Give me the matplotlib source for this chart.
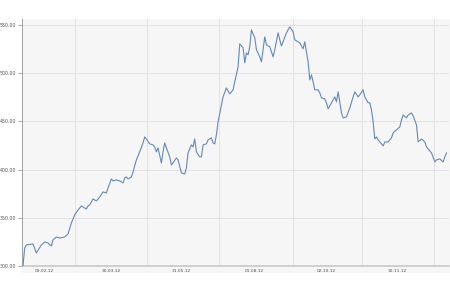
import matplotlib.pyplot as plt
from matplotlib.patches import Rectangle

# Share price (x = trading day index)
days = [0, 1, 2, 6, 8, 11, 13, 15, 17, 18, 20, 22, 25, 27, 29, 31, 33, 35, 36, 38,
        39, 40, 42, 44, 46, 48, 50, 51, 53, 54, 56, 58, 60, 61, 62, 63, 65, 66, 68, 70,
        72, 73, 74, 76, 78, 79, 80, 81, 83, 84, 85, 86, 88, 89, 90, 92, 93, 95, 97, 98,
        99, 101, 102, 103, 104, 106, 107, 108, 110, 111, 113, 114, 115, 116, 117, 119, 120, 122, 124, 126,
        127, 129, 130, 132, 133, 134, 135, 136, 137, 139, 140, 142, 143, 145, 146, 148, 150, 151, 153, 154,
        155, 156, 158, 160, 162, 163, 166, 168, 169, 171, 172, 173, 174, 175, 177, 178, 179, 181, 182, 183,
        185, 187, 188, 189, 190, 191, 192, 194, 196, 198, 199, 201, 202, 204, 205, 207, 208, 209, 210, 211,
        212, 213, 214, 216, 217, 219, 221, 222, 224, 226, 227, 228, 230, 231, 233, 234, 236, 237, 239, 241,
        242, 245, 247, 248, 250, 252, 253, 254]
prices = [300.0, 318.7, 321.8, 322.8, 313.5, 321.8, 324.9, 323.9, 320.7, 327.0,
          330.1, 329.0, 330.1, 333.2, 344.6, 352.9, 358.1, 362.2, 361.2, 359.1,
          362.2, 363.3, 369.5, 367.4, 371.6, 376.8, 375.7, 380.9, 390.2, 388.2,
          389.2, 388.2, 386.1, 391.3, 392.3, 390.2, 392.3, 397.5, 410.0, 418.3,
          427.6, 433.8, 431.7, 426.6, 425.5, 423.4, 418.3, 422.4, 406.8, 418.3,
          427.6, 422.4, 413.1, 404.8, 406.8, 412.0, 410.0, 396.5, 395.4, 401.7,
          417.2, 425.5, 423.4, 431.7, 418.3, 413.1, 413.1, 425.5, 426.6, 430.7,
          432.8, 427.6, 426.6, 435.9, 449.4, 467.0, 475.3, 484.6, 478.4, 482.6,
          490.9, 506.4, 530.3, 526.1, 510.6, 520.9, 518.9, 527.2, 544.8, 536.5,
          524.1, 516.8, 511.6, 537.5, 529.2, 527.2, 516.8, 524.1, 541.7, 534.4,
          528.2, 532.4, 541.7, 547.9, 542.7, 534.4, 531.3, 525.1, 532.4, 511.6,
          492.9, 498.1, 490.9, 482.6, 482.6, 479.5, 474.3, 473.2, 469.1, 462.9,
          469.1, 475.3, 470.1, 480.5, 470.1, 458.7, 453.5, 454.6, 463.9, 475.3,
          480.5, 475.3, 477.4, 482.6, 475.3, 469.1, 469.1, 461.8, 449.4, 431.7,
          433.8, 430.7, 428.6, 424.5, 428.6, 428.6, 432.8, 438.0, 441.1, 444.2,
          451.4, 456.6, 453.5, 456.6, 458.7, 455.6, 446.3, 428.6, 431.7, 428.6,
          423.4, 417.2, 407.9, 410.0, 411.0, 407.9, 413.1, 417.2]

date_labels = ['09.02.12', '30.03.12', '31.05.12', '01.08.12', '02.10.12', '30.11.12']
label_days = [12.6, 52.7, 95.2, 138.9, 182.0, 224.6]
grid_days = [31.1, 74.3, 117.4, 161.7, 203.6, 246.7]
y_ticks = [300, 350, 400, 450, 500, 550]

fig = plt.figure(figsize=(4.5, 3), dpi=100)
bg = Rectangle((22 / 450, 27 / 300), 428 / 450, 254 / 300,
               transform=fig.transFigure, facecolor='#f6f6f6',
               edgecolor='none', zorder=-10)
fig.patches.append(bg)
ax = fig.add_axes([22 / 450, 34 / 300, 427 / 450, 247 / 300])
ax.set_facecolor('none')
ax.set_zorder(1)

ax.plot(days, prices, color='#6289bb', lw=0.8, zorder=3)

ax.set_xlim(-0.6, 255.5)
ax.set_ylim(300, 556)

ax.set_yticks(y_ticks)
ax.set_yticklabels(['%.2f' % v for v in y_ticks])
ax.set_xticks(label_days)
ax.set_xticklabels(date_labels)
ax.set_xticks(grid_days, minor=True)

ax.grid(axis='y', color='#e2e2e2', lw=0.7)
ax.grid(axis='x', which='minor', color='#e2e2e2', lw=0.7)

ax.tick_params(axis='y', length=3, width=0.6, color='#999999', labelsize=3.4,
               labelcolor='#555555', pad=1)
ax.tick_params(axis='x', which='major', length=0, labelsize=3.2,
               labelcolor='#555555', pad=2)
ax.tick_params(axis='x', which='minor', length=0)

for s in ['top', 'right']:
    ax.spines[s].set_visible(False)
ax.spines['left'].set_color('#a0a0a0')
ax.spines['left'].set_linewidth(0.7)
ax.spines['bottom'].set_color('#c8c8c8')
ax.spines['bottom'].set_linewidth(1.2)

fig.savefig('out.png', dpi=100)
